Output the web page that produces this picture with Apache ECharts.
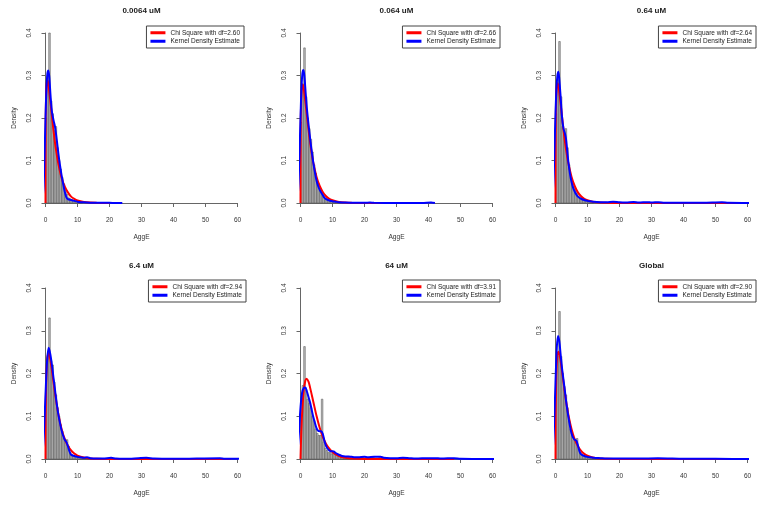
<!DOCTYPE html>
<html>
<head>
<meta charset="utf-8">
<script src="https://cdn.jsdelivr.net/npm/echarts@6/dist/echarts.min.js"></script>
<style>html,body{margin:0;padding:0;background:#fff}#c{width:764px;height:505px}</style>
</head>
<body>
<div id="c"></div>
<script>
// ---- data ----
const panelTitles = ['0.0064 uM', '0.064 uM', '0.64 uM', '6.4 uM', '64 uM', 'Global'];
const dfValues = ['2.60', '2.66', '2.64', '2.94', '3.91', '2.90'];
const xTicks = [0, 10, 20, 30, 40, 50, 60];
const yTicks = [0, 0.1, 0.2, 0.3, 0.4];
const binWidth = 0.5; // histogram bins start at 0

const hist1 = [0.20,0.30,0.40,0.24,0.21,0.17,0.18,0.13,0.10,0.08,0.06,0.045,0.03,0.02,0.012,0.01,0.008,0.006,0.004,0.003,0.002,0.002,0.001];
const hist2 = [0.19,0.28,0.365,0.25,0.20,0.175,0.15,0.12,0.09,0.07,0.05,0.04,0.03,0.022,0.016,0.012,0.009,0.007,0.005,0.004,0.003,0.002,0.002,0.001,0.001];
const hist3 = [0.21,0.29,0.38,0.25,0.18,0.16,0.175,0.13,0.09,0.065,0.05,0.04,0.03,0.022,0.016,0.012,0.009,0.007,0.005,0.004,0.003,0.002,0.002,0.001];
const hist4 = [0.19,0.24,0.33,0.23,0.22,0.18,0.15,0.12,0.10,0.08,0.065,0.05,0.045,0.045,0.03,0.015,0.01,0.008,0.006,0.005,0.004,0.003,0.002,0.002,0.002,0.003,0.002,0.001,0.001];
const hist5 = [0.13,0.172,0.263,0.16,0.14,0.13,0.12,0.10,0.09,0.07,0.06,0.055,0.055,0.14,0.04,0.025,0.02,0.015,0.015,0.012,0.018,0.012,0.01,0.008,0.01,0.006,0.004,0.003,0.004,0.006,0.005,0.003,0.003,0.002,0.002,0.003,0.002,0.002,0.004,0.003,0.002,0.002,0.002,0.002,0.002,0.005,0.002,0.002,0.002,0.004];
const hist6 = [0.19,0.24,0.345,0.24,0.20,0.17,0.15,0.12,0.09,0.07,0.055,0.045,0.045,0.048,0.025,0.015,0.01,0.008,0.006,0.005,0.004,0.003,0.003,0.002,0.002,0.002,0.001];

const chi1 = [[0,0],[0.05,0.18],[0.1,0.216],[0.2,0.253],[0.4,0.282],[0.6,0.288],[0.8,0.284],[1,0.275],[1.5,0.241],[2,0.205],[2.5,0.171],[3,0.140],[3.5,0.115],[4,0.093],[5,0.060],[6,0.039],[7,0.025],[8,0.015],[9,0.0096],[10,0.006],[12,0.0024],[14,0.0009],[16,0.0004],[20,0.0001]];
const chi2 = [[0,0],[0.05,0.16],[0.1,0.198],[0.2,0.237],[0.4,0.269],[0.66,0.279],[1,0.270],[1.5,0.240],[2,0.206],[2.5,0.173],[3,0.143],[3.5,0.117],[4,0.095],[5,0.062],[6,0.040],[7,0.0255],[8,0.016],[9,0.010],[10,0.0064],[12,0.0025],[14,0.001],[16,0.0004],[20,0.0001],[38,0]];
const chi3 = [[0,0],[0.05,0.165],[0.1,0.204],[0.2,0.242],[0.4,0.273],[0.64,0.282],[1,0.272],[1.5,0.241],[2,0.206],[2.5,0.172],[3,0.142],[3.5,0.116],[4,0.094],[5,0.062],[6,0.040],[7,0.025],[8,0.016],[9,0.010],[10,0.0063],[12,0.0025],[14,0.001],[16,0.0004],[20,0.0001],[58,0]];
const chi4 = [[0,0],[0.05,0.10],[0.1,0.131],[0.2,0.173],[0.4,0.217],[0.6,0.238],[0.94,0.248],[1.3,0.241],[1.6,0.228],[2,0.208],[2.5,0.180],[3,0.153],[3.5,0.128],[4,0.106],[5,0.071],[6,0.047],[7,0.031],[8,0.020],[9,0.0127],[10,0.008],[12,0.0033],[14,0.0013],[16,0.0005],[20,0.0001],[58,0]];
const chi5 = [[0,0],[0.1,0.028],[0.2,0.051],[0.5,0.106],[1,0.160],[1.5,0.183],[1.91,0.188],[2.5,0.181],[3,0.167],[4,0.134],[5,0.101],[6,0.073],[7,0.051],[8,0.035],[9,0.024],[10,0.016],[12,0.007],[14,0.003],[16,0.0012],[20,0.0002],[48,0]];
const chi6 = [[0,0],[0.05,0.10],[0.1,0.139],[0.2,0.181],[0.4,0.224],[0.6,0.243],[0.9,0.251],[1.3,0.243],[1.6,0.229],[2,0.208],[2.5,0.179],[3,0.151],[3.5,0.126],[4,0.104],[5,0.070],[6,0.046],[7,0.030],[8,0.019],[9,0.012],[10,0.0079],[12,0.0031],[14,0.0012],[16,0.0005],[20,0.0001],[58,0]];

const kde1 = [[-1.5,0],[-1,0.008],[-0.6,0.04],[-0.3,0.11],[0,0.2],[0.3,0.27],[0.6,0.305],[0.9,0.312],[1.2,0.295],[1.6,0.25],[2,0.215],[2.5,0.195],[3,0.178],[3.5,0.15],[4,0.118],[4.5,0.09],[5,0.066],[5.5,0.046],[6,0.027],[6.5,0.014],[7,0.009],[8,0.007],[9,0.005],[10,0.003],[11,0.002],[12,0.0015],[14,0.0008],[16,0.0004],[18,0.0003],[20,0.0003],[22,0.0002],[24,0]];
const kde2 = [[-1.6,0],[-1,0.01],[-0.6,0.05],[-0.3,0.12],[0,0.2],[0.3,0.27],[0.6,0.305],[0.9,0.313],[1.2,0.3],[1.6,0.26],[2,0.222],[2.5,0.185],[3,0.152],[3.5,0.122],[4,0.095],[4.5,0.072],[5,0.053],[5.5,0.04],[6,0.031],[6.5,0.024],[7,0.018],[7.5,0.012],[8,0.009],[9,0.006],[10,0.004],[11,0.003],[12,0.002],[14,0.001],[17,0.0005],[20,0.0005],[21.7,0.0012],[23,0.0004],[30,0.0002],[38,0.0002],[40.8,0.0012],[42,0]];
const kde3 = [[-1.5,0],[-1,0.012],[-0.6,0.06],[-0.3,0.13],[0,0.21],[0.3,0.27],[0.6,0.3],[0.9,0.309],[1.2,0.29],[1.6,0.25],[2,0.205],[2.5,0.175],[3,0.162],[3.3,0.15],[3.7,0.12],[4,0.098],[4.5,0.07],[5,0.05],[5.5,0.036],[6,0.027],[6.5,0.02],[7,0.015],[8,0.01],[9,0.007],[10,0.005],[11,0.004],[12,0.003],[14,0.002],[16,0.0015],[18,0.003],[20,0.0015],[22,0.001],[24.4,0.0025],[26,0.001],[28.8,0.002],[30,0.001],[32.2,0.002],[34,0.0008],[40,0.0005],[46,0.0004],[52,0.0015],[54,0.0004],[61,0]];
const kde4 = [[-1.5,0],[-1,0.01],[-0.5,0.06],[0,0.15],[0.5,0.23],[1,0.26],[1.5,0.245],[2,0.22],[2.5,0.19],[3,0.16],[3.5,0.13],[4,0.105],[4.5,0.085],[5,0.068],[5.5,0.055],[6,0.045],[6.5,0.04],[7,0.03],[7.5,0.018],[8,0.01],[9,0.007],[10,0.005],[11,0.004],[12,0.003],[13,0.004],[14,0.002],[16,0.001],[18,0.001],[20.5,0.003],[22,0.001],[25,0.0005],[29,0.002],[31.5,0.003],[34,0.001],[40,0.0005],[54.5,0.002],[56,0.0005],[62.4,0.0003]];
const kde5 = [[-2.4,0.001],[-1.5,0.003],[-1,0.015],[-0.5,0.06],[0,0.12],[0.5,0.155],[1,0.166],[1.5,0.167],[2,0.158],[2.5,0.145],[3,0.132],[3.5,0.115],[4,0.098],[4.5,0.085],[5,0.072],[5.5,0.066],[6,0.065],[6.5,0.065],[7,0.058],[7.5,0.042],[8,0.03],[8.5,0.024],[9,0.02],[9.5,0.018],[10,0.018],[10.5,0.017],[11,0.014],[12,0.01],[13,0.007],[14,0.006],[15,0.006],[16,0.005],[17,0.004],[18,0.004],[20,0.005],[21,0.004],[23,0.005],[25,0.005],[26,0.003],[28,0.002],[30,0.002],[32,0.003],[34,0.002],[36,0.001],[40,0.002],[42,0.002],[44,0.001],[48,0.002],[50,0.0005],[55,0.0002],[62.4,0]];
const kde6 = [[-1.5,0],[-1,0.01],[-0.5,0.07],[0,0.18],[0.4,0.26],[0.8,0.288],[1.2,0.275],[1.6,0.245],[2,0.215],[2.5,0.185],[3,0.155],[3.5,0.125],[4,0.1],[4.5,0.078],[5,0.06],[5.5,0.05],[6,0.045],[6.5,0.043],[7,0.032],[7.5,0.018],[8,0.011],[9,0.007],[10,0.005],[11,0.004],[12,0.003],[14,0.002],[16,0.001],[20,0.001],[22,0.001],[26,0.001],[32,0.0015],[40,0.0005],[50,0.0003],[62.4,0]];

const histData = [hist1, hist2, hist3, hist4, hist5, hist6];
const chiData = [chi1, chi2, chi3, chi4, chi5, chi6];
const kdeData = [kde1, kde2, kde3, kde4, kde5, kde6];

// ---- layout ----
const colLeft = [45.5, 300.5, 555.5];
const plotW = 192;
const rowTop = [33, 288];
const rowH = [170, 171];
const FONT = 'Liberation Sans, Arial, sans-serif';
const kdeName = 'Kernel Density Estimate';

const grids = [], xAxes = [], yAxes = [], titles = [], legends = [], series = [];
for (let i = 0; i < 6; i++) {
  const c = i % 3, r = Math.floor(i / 3);
  const left = colLeft[c], top = rowTop[r], h = rowH[r];
  grids.push({ left: left, top: top, width: plotW, height: h, containLabel: false });
  xAxes.push({
    gridIndex: i, type: 'value', min: xTicks[0], max: xTicks[xTicks.length - 1], interval: 10,
    offset: 7, name: 'AggE', nameLocation: 'middle', nameGap: 24,
    nameTextStyle: { fontSize: 6.6, color: '#333', fontFamily: FONT },
    axisLine: { show: true, lineStyle: { color: '#666', width: 1 } },
    axisTick: { show: true, length: 4, lineStyle: { color: '#666' } },
    axisLabel: { fontSize: 6.5, color: '#333', margin: 7, fontFamily: FONT },
    splitLine: { show: false }
  });
  yAxes.push({
    gridIndex: i, type: 'value', min: yTicks[0], max: yTicks[yTicks.length - 1], interval: 0.1,
    offset: 8, name: 'Density', nameLocation: 'middle', nameGap: 20, nameRotate: 90,
    nameTextStyle: { fontSize: 6.4, color: '#333', fontFamily: FONT },
    axisLine: { show: true, lineStyle: { color: '#666', width: 1 } },
    axisTick: { show: true, length: 4, lineStyle: { color: '#666' } },
    axisLabel: { fontSize: 6.5, color: '#333', margin: 5, rotate: 90, fontFamily: FONT,
      formatter: v => v.toFixed(1) },
    splitLine: { show: false }
  });
  titles.push({
    text: panelTitles[i], left: left + plotW / 2, top: r === 0 ? 7 : 262, textAlign: 'center', padding: 0,
    textStyle: { fontSize: 8, fontWeight: 'bold', color: '#222', fontFamily: FONT }
  });
  const chiName = 'Chi Square with df=' + dfValues[i];
  const legendRight = [520, 264, 8][c] - (r === 1 && c === 0 ? 2 : 0);
  legends.push({
    data: [chiName, kdeName], orient: 'vertical', right: legendRight, top: r === 0 ? 26 : 280,
    icon: 'rect', itemWidth: 15, itemHeight: 3, itemGap: 1, selectedMode: false,
    padding: [3, 4, 3, 4], borderColor: '#444', borderWidth: 1, backgroundColor: '#fff',
    textStyle: { fontSize: 6.5, color: '#222', fontFamily: FONT, lineHeight: 7.5 }
  });
  const hist = histData[i];
  series.push({
    type: 'custom', xAxisIndex: i, yAxisIndex: i, clip: false, silent: true,
    data: hist.map((v, k) => [k * binWidth, (k + 1) * binWidth, v]),
    encode: { x: [0, 1], y: 2 },
    renderItem: function (params, api) {
      const p0 = api.coord([api.value(0), api.value(2)]);
      const p1 = api.coord([api.value(1), 0]);
      return {
        type: 'rect',
        shape: { x: p0[0], y: p0[1], width: p1[0] - p0[0], height: p1[1] - p0[1] },
        style: { fill: '#bdbdbd', stroke: '#4d4d4d', lineWidth: 0.5 }
      };
    }
  });
  series.push({
    name: chiName, type: 'line', xAxisIndex: i, yAxisIndex: i, data: chiData[i],
    symbol: 'none', smooth: 0.3, clip: false, silent: true,
    lineStyle: { color: '#ff0000', width: 2 }, itemStyle: { color: '#ff0000' }
  });
  series.push({
    name: kdeName, type: 'line', xAxisIndex: i, yAxisIndex: i, data: kdeData[i],
    symbol: 'none', smooth: 0.3, clip: false, silent: true,
    lineStyle: { color: '#0000ff', width: 2 }, itemStyle: { color: '#0000ff' }
  });
}

const chart = echarts.init(document.getElementById('c'), null, { renderer: 'canvas' });
chart.setOption({
  animation: false,
  backgroundColor: '#fff',
  title: titles, legend: legends, grid: grids, xAxis: xAxes, yAxis: yAxes, series: series
});
</script>
</body>
</html>
